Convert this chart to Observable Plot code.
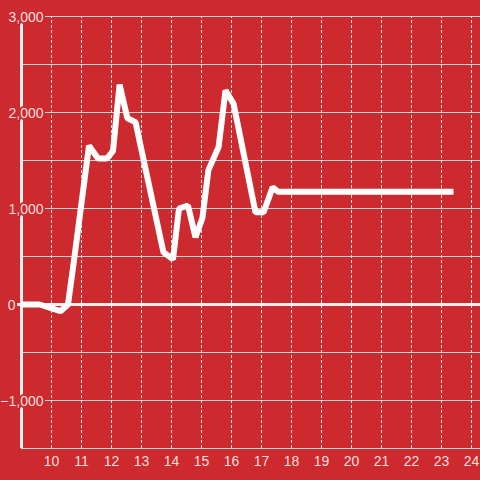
<!DOCTYPE html>
<html>
<head>
<meta charset="utf-8">
<script src="https://cdn.jsdelivr.net/npm/d3@7"></script>
<script src="https://cdn.jsdelivr.net/npm/@observablehq/plot@0.6"></script>
<style>
  html, body { margin: 0; padding: 0; background: #cc2a2e; }
  #chart { width: 480px; height: 480px; }
</style>
</head>
<body>
<div id="chart"></div>
<script>
// Data
const hours = [9, 9.6, 10.3, 10.55, 10.75, 11.25, 11.55, 11.85, 12.05, 12.27, 12.53, 12.8, 13.73, 14.05, 14.25, 14.55, 14.8, 15.03, 15.23, 15.57, 15.8, 16.07, 16.8, 17.07, 17.37, 17.55, 23.4];
const values = [0, 0, -70, 0, 460, 1655, 1520, 1520, 1600, 2290, 1940, 1900, 545, 470, 1000, 1030, 700, 900, 1400, 1640, 2230, 2090, 960, 960, 1220, 1175, 1175];
const xTicks = [10, 11, 12, 13, 14, 15, 16, 17, 18, 19, 20, 21, 22, 23, 24];
const yGrid = [-1500, -1000, -500, 500, 1000, 1500, 2000, 2500, 3000];
const yLabels = [-1000, 0, 1000, 2000, 3000];

const data = hours.map((h, i) => ({ h, v: values[i] }));

const BG = "#cc2a2e";
const TXT = "#f7dfdf";
const fmt = d3.format(",");
const font = "Liberation Sans, Arial, Helvetica, sans-serif";

const chart = Plot.plot({
  width: 480,
  height: 480,
  marginLeft: 0,
  marginRight: 0,
  marginTop: 16,
  marginBottom: 32,
  style: { background: BG, fontFamily: font, overflow: "visible" },
  x: { domain: [8.3, 24.3], axis: null },
  y: { domain: [-1500, 3000], axis: null },
  marks: [
    Plot.ruleY(yGrid, { x1: 9, x2: 24.3, stroke: "#d2d2d2", strokeWidth: 1 }),
    Plot.ruleX(xTicks, { y1: -1500, y2: 3000, stroke: "#e8e8e8", strokeWidth: 1, strokeDasharray: "3,2" }),
    Plot.ruleY([-1500], { x1: 9, x2: 24.3, stroke: "#d8d8d8", strokeWidth: 1 }),
    Plot.ruleX([9], { y1: -1500, y2: 3000, stroke: "#f0f0f0", strokeWidth: 3 }),
    Plot.ruleY([0], { x1: 8.87, x2: 24.3, stroke: "#f0f0f0", strokeWidth: 3 }),
    Plot.line(data, { x: "h", y: "v", stroke: "#ffffff", strokeWidth: 6, strokeLinejoin: "bevel", strokeLinecap: "butt" }),
    Plot.text(yLabels, {
      x: () => 9, y: d => d, text: d => fmt(d),
      dx: (22), textAnchor: "end", fontSize: 14, fill: TXT,
      stroke: BG, strokeWidth: 4, dy: 1,
      filter: d => d !== 0
    }),
    Plot.text([0], {
      x: () => 9, y: d => d, text: d => fmt(d),
      dx: -6, textAnchor: "end", fontSize: 14, fill: TXT,
      stroke: BG, strokeWidth: 4, dy: 1
    }),
    Plot.text(xTicks, {
      x: d => d, y: () => -1500, text: d => String(d),
      dy: 13, fontSize: 14, fill: TXT
    })
  ]
});
document.getElementById("chart").appendChild(chart);
</script>
</body>
</html>
